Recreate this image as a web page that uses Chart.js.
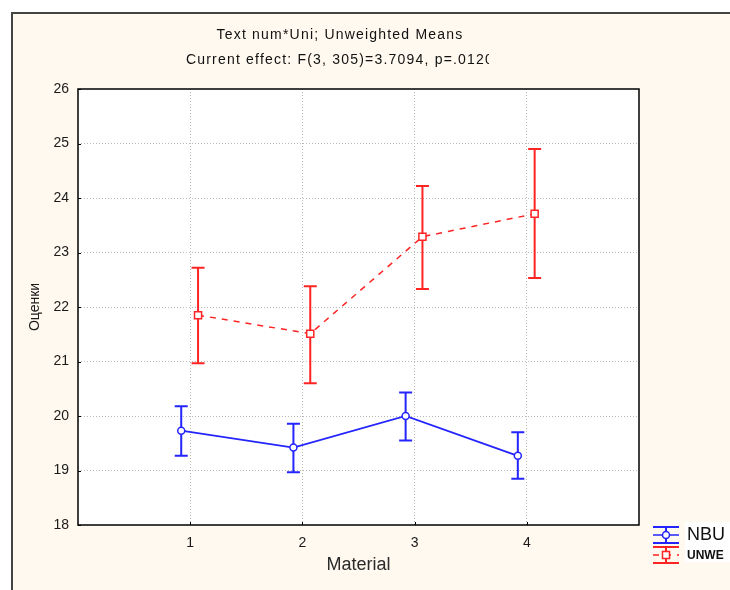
<!DOCTYPE html>
<html>
<head>
<meta charset="utf-8">
<script src="https://cdn.jsdelivr.net/npm/chart.js@4/dist/chart.umd.min.js"></script>
<style>
  html, body { margin: 0; padding: 0; background: #fff; }
  #wrap { width: 730px; height: 590px; }
</style>
</head>
<body>
<div id="wrap"><canvas id="grafico"></canvas></div>
<script>
// Datos
const categorias = [1, 2, 3, 4];
const nbuMedias = [19.73, 19.42, 20.00, 19.27];
const nbuInf = [19.27, 18.97, 19.55, 18.85];
const nbuSup = [20.18, 19.86, 20.43, 19.70];
const unweMedias = [21.85, 21.51, 23.29, 23.71];
const unweInf = [20.97, 20.60, 22.33, 22.53];
const unweSup = [22.72, 22.38, 24.22, 24.90];
const titulos = ['Text num*Uni; Unweighted Means', 'Current effect: F(3, 305)=3.7094, p=.0120'];

const azul = '#2424ff';
const rojo = '#ff2424';

// desplazamiento horizontal de cada serie respecto a la categoría
const despNbu = -0.08;
const despUnwe = 0.07;

function puntos(medias, desp) {
  return medias.map((v, i) => ({ x: categorias[i] + desp, y: v }));
}

// fondo, marco, barras de error, leyenda y títulos
const extras = {
  id: 'extras',
  beforeDraw(chart) {
    const { ctx, chartArea: a } = chart;
    ctx.save();
    ctx.fillStyle = '#ffffff';
    ctx.fillRect(0, 0, chart.width, chart.height);
    ctx.fillStyle = '#fff9ef';
    ctx.fillRect(12, 13, chart.width - 12, chart.height - 13);
    ctx.strokeStyle = '#444';
    ctx.lineWidth = 2;
    ctx.beginPath();
    ctx.moveTo(12, chart.height);
    ctx.lineTo(12, 13);
    ctx.lineTo(chart.width, 13);
    ctx.stroke();
    ctx.fillStyle = '#ffffff';
    ctx.fillRect(a.left, a.top, a.right - a.left, a.bottom - a.top);
    ctx.restore();
  },
  beforeDatasetsDraw(chart) {
    const { ctx } = chart;
    const y = chart.scales.y;
    chart.data.datasets.forEach((ds, i) => {
      const meta = chart.getDatasetMeta(i);
      ctx.save();
      ctx.strokeStyle = ds.borderColor;
      ctx.lineWidth = 2;
      meta.data.forEach((pt, j) => {
        const yl = y.getPixelForValue(ds.errInf[j]);
        const yh = y.getPixelForValue(ds.errSup[j]);
        ctx.beginPath();
        ctx.moveTo(pt.x, yl);
        ctx.lineTo(pt.x, yh);
        ctx.moveTo(pt.x - 6.5, yl);
        ctx.lineTo(pt.x + 6.5, yl);
        ctx.moveTo(pt.x - 6.5, yh);
        ctx.lineTo(pt.x + 6.5, yh);
        ctx.stroke();
      });
      ctx.restore();
    });
  },
  afterDraw(chart) {
    const { ctx, chartArea: a } = chart;
    const x = chart.scales.x;
    const y = chart.scales.y;
    ctx.save();
    // marco del área de trazado
    ctx.strokeStyle = '#000';
    ctx.lineWidth = 1.5;
    ctx.strokeRect(a.left, a.top, a.right - a.left, a.bottom - a.top);
    // marcas interiores
    ctx.lineWidth = 1;
    ctx.beginPath();
    categorias.forEach(c => {
      const px = Math.round(x.getPixelForValue(c)) + 0.5;
      ctx.moveTo(px, a.bottom);
      ctx.lineTo(px, a.bottom - 3);
    });
    y.ticks.forEach(t => {
      const py = Math.round(y.getPixelForValue(t.value)) + 0.5;
      ctx.moveTo(a.left, py);
      ctx.lineTo(a.left + 3, py);
    });
    ctx.stroke();

    // títulos (recortados como en el original)
    ctx.save();
    ctx.beginPath();
    ctx.rect(0, 0, 489, 80);
    ctx.clip();
    ctx.fillStyle = '#111';
    ctx.font = '14px "Liberation Sans", Arial, sans-serif';
    ctx.letterSpacing = '1.2px';
    ctx.textAlign = 'center';
    ctx.textBaseline = 'middle';
    ctx.fillText(titulos[0], 340, 35);
    ctx.fillText(titulos[1], 340, 60);
    ctx.restore();

    // leyenda
    ctx.fillStyle = '#ffffff';
    ctx.fillRect(685, 522, chart.width - 685, 40);
    const filas = [
      { cy: 535, font: '18px "Liberation Sans", Arial, sans-serif', ty: 535 },
      { cy: 555, font: 'bold 12px "Liberation Sans", Arial, sans-serif', ty: 556 }
    ];
    chart.data.datasets.forEach((ds, i) => {
      const f = filas[i];
      const cx = 666;
      ctx.strokeStyle = ds.borderColor;
      ctx.lineWidth = 2;
      ctx.setLineDash([]);
      ctx.beginPath();
      ctx.moveTo(653, f.cy - 8); ctx.lineTo(679, f.cy - 8);
      ctx.moveTo(653, f.cy + 8); ctx.lineTo(679, f.cy + 8);
      ctx.moveTo(cx, f.cy - 8); ctx.lineTo(cx, f.cy + 8);
      ctx.stroke();
      ctx.lineWidth = 1.5;
      ctx.setLineDash(ds.borderDash || []);
      ctx.beginPath();
      ctx.moveTo(653, f.cy); ctx.lineTo(679, f.cy);
      ctx.stroke();
      ctx.setLineDash([]);
      ctx.fillStyle = '#fff';
      ctx.beginPath();
      if (ds.pointStyle === 'rect') {
        ctx.rect(cx - 3.5, f.cy - 3.5, 7, 7);
      } else {
        ctx.arc(cx, f.cy, 3.5, 0, Math.PI * 2);
      }
      ctx.fill();
      ctx.stroke();
      ctx.fillStyle = '#111';
      ctx.font = f.font;
      ctx.textAlign = 'left';
      ctx.textBaseline = 'middle';
      ctx.fillText(ds.label, 687, f.ty);
    });
    ctx.restore();
  }
};

const ctx = document.getElementById('grafico').getContext('2d');
const grafico = new Chart(ctx, {
  type: 'line',
  data: {
    datasets: [
      {
        label: 'NBU',
        data: puntos(nbuMedias, despNbu),
        errInf: nbuInf,
        errSup: nbuSup,
        borderColor: azul,
        backgroundColor: '#ffffff',
        borderWidth: 1.8,
        pointStyle: 'circle',
        pointRadius: 3.5,
        pointBorderWidth: 1.5,
        pointBackgroundColor: '#ffffff',
        tension: 0
      },
      {
        label: 'UNWE',
        data: puntos(unweMedias, despUnwe),
        errInf: unweInf,
        errSup: unweSup,
        borderColor: rojo,
        backgroundColor: '#ffffff',
        borderWidth: 1.5,
        borderDash: [6, 6],
        pointStyle: 'rect',
        pointRadius: 5,
        pointBorderWidth: 1.5,
        pointBackgroundColor: '#ffffff',
        tension: 0
      }
    ]
  },
  options: {
    responsive: true,
    maintainAspectRatio: false,
    animation: false,
    layout: {
      padding: { left: 0, right: 91, top: 89, bottom: 0 }
    },
    plugins: {
      legend: { display: false },
      title: { display: false },
      tooltip: { enabled: false }
    },
    scales: {
      x: {
        type: 'linear',
        min: 0,
        max: 5,
        afterFit: s => { s.height = 65; },
        ticks: {
          stepSize: 1,
          padding: 10,
          color: '#1a1a1a',
          font: { family: '"Liberation Sans", Arial, sans-serif', size: 14 },
          callback: v => (categorias.includes(v) ? v : '')
        },
        grid: {
          drawTicks: false,
          lineWidth: 1,
          color: c => (categorias.includes(c.tick.value) ? '#b8b8b8' : 'rgba(0,0,0,0)')
        },
        border: { display: false, dash: [1, 2] },
        title: {
          display: true,
          text: 'Material',
          color: '#2a2a2a',
          font: { family: '"Liberation Sans", Arial, sans-serif', size: 18 },
          padding: { top: 0, bottom: 14 }
        }
      },
      y: {
        min: 18,
        max: 26,
        afterFit: s => { s.width = 78; },
        ticks: {
          stepSize: 1,
          padding: 9,
          color: '#1a1a1a',
          font: { family: '"Liberation Sans", Arial, sans-serif', size: 14 }
        },
        grid: {
          drawTicks: false,
          lineWidth: 1,
          color: c => (c.tick.value > 18 && c.tick.value < 26 ? '#b8b8b8' : 'rgba(0,0,0,0)')
        },
        border: { display: false, dash: [1, 2] },
        title: {
          display: true,
          text: 'Оценки',
          color: '#1a1a1a',
          font: { family: '"Liberation Sans", Arial, sans-serif', size: 14 },
          padding: { top: 27, bottom: 0 }
        }
      }
    }
  },
  plugins: [extras]
});
</script>
</body>
</html>
